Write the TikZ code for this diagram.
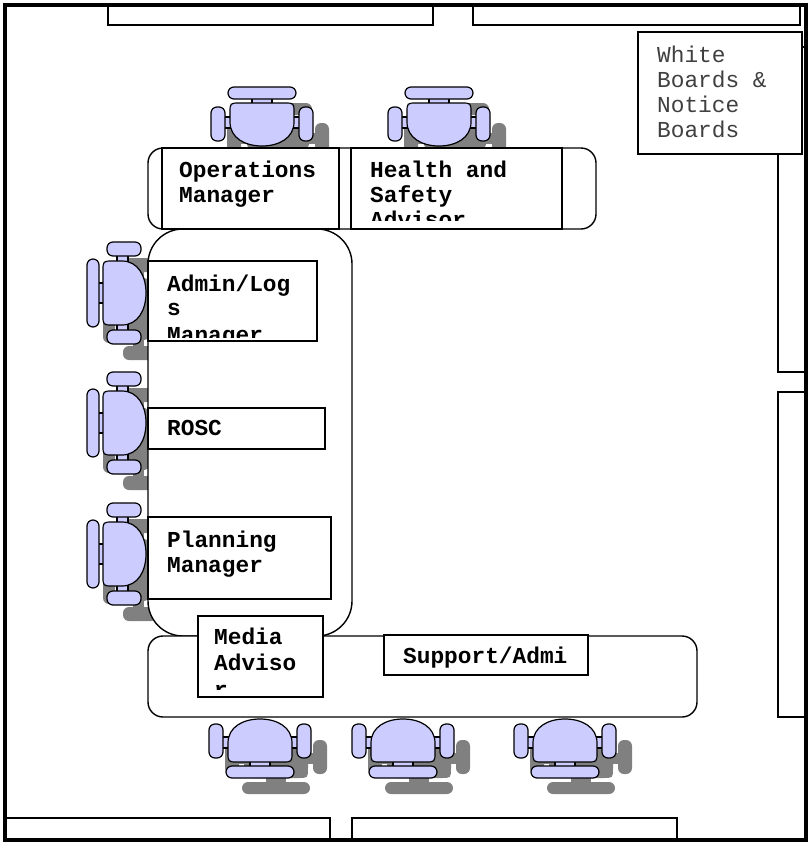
\documentclass[tikz,border=0pt]{standalone}
\usepackage{fontspec}
\newfontfamily\labelmono{Liberation Mono}
\definecolor{chairblue}{HTML}{CCCCFF}
\definecolor{shadowgray}{HTML}{808080}
\tikzset{
  wallbox/.style={draw=black, line width=1.6pt, fill=white},
  framebox/.style={draw=black, line width=4pt},
  tablebox/.style={draw=black, line width=1.4pt, fill=white},
  textframe/.style={draw=black, line width=1.6pt, fill=white},
  lbl/.style={inner sep=0pt, anchor=base west, font=\labelmono\bfseries\fontsize{22.8}{25}\selectfont},
  wblbl/.style={inner sep=0pt, anchor=base west, text=black!75, font=\labelmono\fontsize{22.8}{25}\selectfont},
  chairpart/.style={fill=chairblue, draw=black, line width=1.2pt},
  shadowpart/.style={fill=shadowgray, draw=none},
}
% chair in local units: x across, y away from the table edge
\newcommand\chairdraw[1]{%
  \path[#1] (-38,20) rectangle (-30,31);
  \path[#1] (30,20) rectangle (38,31);
  \path[#1] (-10,43) rectangle (10,50);
  \path[#1, rounded corners=6pt] (-51,7) rectangle (-37,41);
  \path[#1, rounded corners=6pt] (37,7) rectangle (51,41);
  \path[#1] (-32,26) -- (-32,35) .. controls (-32,45) .. (-22,45) -- (22,45)
     .. controls (32,45) .. (32,35) -- (32,26)
     .. controls (32,10) and (17,2) .. (0,2)
     .. controls (-17,2) and (-32,10) .. (-32,26) -- cycle;
  \path[#1, rounded corners=6pt] (-34,49) rectangle (34,61);
}
\newcommand\topchair[3]{\begin{scope}[shift={(#1,#2)}, x={(1pt,0pt)}, y={(0pt,1pt)}]\chairdraw{#3}\end{scope}}
\newcommand\bottomchair[3]{\begin{scope}[shift={(#1,#2)}, x={(1pt,0pt)}, y={(0pt,-1pt)}]\chairdraw{#3}\end{scope}}
\newcommand\leftchair[3]{\begin{scope}[shift={(#1,#2)}, x={(0pt,-1pt)}, y={(-1pt,0pt)}]\chairdraw{#3}\end{scope}}
\begin{document}
\begin{tikzpicture}[x=1pt, y=-1pt]
\useasboundingbox (0,0) rectangle (808,844);
\fill[white] (0,0) rectangle (808,844);

% walls and windows
\draw[wallbox] (108,6) rectangle (433,25);
\draw[wallbox] (473,6) rectangle (800,25);
\draw[wallbox] (778,47) rectangle (805,372);
\draw[wallbox] (778,392) rectangle (805,717);
\draw[wallbox] (5,818) rectangle (330,839);
\draw[wallbox] (352,818) rectangle (677,839);
\draw[framebox] (5,5) rectangle (806,840);

% chair shadows
\topchair{278}{164}{shadowpart}
\topchair{455}{164}{shadowpart}
\leftchair{164}{309}{shadowpart}
\leftchair{164}{439}{shadowpart}
\leftchair{164}{570}{shadowpart}
\bottomchair{276}{733}{shadowpart}
\bottomchair{419}{733}{shadowpart}
\bottomchair{581}{733}{shadowpart}

% tables
\draw[tablebox, rounded corners=15pt] (148,148) rectangle (596,229);
\draw[tablebox, rounded corners=35pt] (148,229) rectangle (352,636);
\draw[tablebox, rounded corners=15pt] (148,636) rectangle (697,717);

% chairs
\topchair{262}{148}{chairpart}
\topchair{439}{148}{chairpart}
\leftchair{148}{293}{chairpart}
\leftchair{148}{423}{chairpart}
\leftchair{148}{554}{chairpart}
\bottomchair{260}{717}{chairpart}
\bottomchair{403}{717}{chairpart}
\bottomchair{565}{717}{chairpart}

% text frames and labels
\draw[textframe] (162,148) rectangle (339,229);
\node[lbl] (ops1) at (179,177) {Operations};
\node[lbl] (ops2) at (179,202) {Manager};

\draw[textframe] (351,148) rectangle (562,229);
\begin{scope}
\clip (352,149) rectangle (561,220);
\node[lbl] (hs1) at (370,177) {Health and};
\node[lbl] (hs2) at (370,202) {Safety};
\node[lbl] (hs3) at (370,227) {Advisor};
\end{scope}

\draw[textframe] (148,261) rectangle (317,341);
\begin{scope}
\clip (149,262) rectangle (316,337);
\node[lbl] (adm1) at (167,291) {Admin/Log};
\node[lbl] (adm2) at (167,315) {s};
\node[lbl] (adm3) at (167,342) {Manager};
\end{scope}

\draw[textframe] (148,408) rectangle (325,449);
\node[lbl] (rosc) at (167,435) {ROSC};

\draw[textframe] (148,517) rectangle (331,599);
\node[lbl] (plan1) at (167,547) {Planning};
\node[lbl] (plan2) at (167,572) {Manager};

\draw[textframe] (198,616) rectangle (323,697);
\begin{scope}
\clip (199,617) rectangle (322,689);
\node[lbl] (med1) at (214,644) {Media};
\node[lbl] (med2) at (214,670) {Adviso};
\node[lbl] (med3) at (214,697) {r};
\end{scope}

\draw[textframe] (384,635) rectangle (588,675);
\node[lbl] (sup) at (403,663) {Support/Admi};

\draw[textframe] (638,32) rectangle (802,154);
\node[wblbl] (wb1) at (657,62) {White};
\node[wblbl] (wb2) at (657,87) {Boards \&};
\node[wblbl] (wb3) at (657,112) {Notice};
\node[wblbl] (wb4) at (657,137) {Boards};
\end{tikzpicture}
\end{document}
